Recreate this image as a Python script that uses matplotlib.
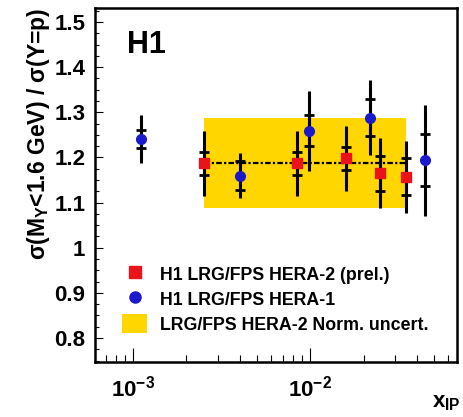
import matplotlib
matplotlib.use("Agg")
import matplotlib.pyplot as plt
from matplotlib.ticker import MultipleLocator, FuncFormatter, FixedLocator, LogLocator, NullFormatter
from matplotlib.lines import Line2D
from matplotlib.patches import Patch

# HERA-2 (prel.) points
x_h2 = [2.52e-3, 8.4e-3, 0.0159, 0.0248, 0.0344]
y_h2 = [1.187, 1.187, 1.198, 1.165, 1.157]
stat_h2 = [0.025, 0.025, 0.025, 0.039, 0.041]
tot_h2 = [0.072, 0.072, 0.072, 0.078, 0.080]

# HERA-1 points
x_h1 = [1.11e-3, 4.03e-3, 9.87e-3, 0.0218, 0.044]
y_h1 = [1.240, 1.160, 1.259, 1.288, 1.194]
stat_h1 = [0.020, 0.033, 0.034, 0.041, 0.058]
tot_h1 = [0.053, 0.050, 0.088, 0.083, 0.123]

# mean ratio and normalisation band
mean_ratio = 1.187
norm_unc = 0.10

xtick_vals = [1e-3, 1e-2]
xtick_labels = [r"$10^{-3}$", r"$10^{-2}$"]
ytick_vals = [0.8, 0.9, 1.0, 1.1, 1.2, 1.3, 1.4, 1.5]

red = "#E8141A"
blue = "#1A1ACC"
gold = "#FFD600"

plt.rcParams["font.family"] = "Liberation Sans"
plt.rcParams["font.weight"] = "bold"
plt.rcParams["mathtext.fontset"] = "custom"
plt.rcParams["mathtext.rm"] = "Liberation Sans:bold"
plt.rcParams["mathtext.it"] = "Liberation Sans:bold"
plt.rcParams["mathtext.bf"] = "Liberation Sans:bold"
plt.rcParams["mathtext.sf"] = "Liberation Sans:bold"

fig = plt.figure(figsize=(4.64, 4.17), dpi=100)
ax = fig.add_axes([0.2047, 0.1319, 0.7802, 0.8489])

# normalisation band + mean line
x0, x1 = min(x_h2), max(x_h2)
ax.fill_between([x0, x1], mean_ratio - norm_unc, mean_ratio + norm_unc,
                color=gold, lw=0, zorder=1)
ax.plot([x0, x1], [mean_ratio] * 2, color="k", lw=1.6,
        ls=(0, (2.5, 1, 1, 1)), zorder=2)

# error bars: total without caps, stat with tick marks
for xs, ys, st, tt in [(x_h2, y_h2, stat_h2, tot_h2), (x_h1, y_h1, stat_h1, tot_h1)]:
    ax.errorbar(xs, ys, yerr=tt, fmt="none", ecolor="k", elinewidth=2.2,
                capsize=0, zorder=3)
    ax.errorbar(xs, ys, yerr=st, fmt="none", ecolor="k", elinewidth=2.2,
                capsize=3.5, capthick=2.0, zorder=3)

ax.plot(x_h2, y_h2, "s", color=red, ms=7, mec=red, zorder=4)
ax.plot(x_h1, y_h1, "o", color=blue, ms=7, mec=blue, zorder=4)

ax.set_xscale("log")
ax.set_xlim(6.1e-4, 0.067)
ax.set_ylim(0.747, 1.531)

ax.xaxis.set_major_locator(FixedLocator(xtick_vals))
ax.set_xticklabels(xtick_labels)
ax.xaxis.set_minor_locator(LogLocator(base=10, subs=range(2, 10), numticks=20))
ax.xaxis.set_minor_formatter(NullFormatter())
ax.set_yticks(ytick_vals)
ax.yaxis.set_major_formatter(FuncFormatter(lambda v, p: f"{v:g}"))
ax.yaxis.set_minor_locator(MultipleLocator(0.025))

for s in ax.spines.values():
    s.set_linewidth(1.8)
ax.tick_params(which="both", direction="in", top=False, right=False, width=0.8)
ax.tick_params(axis="y", which="major", length=6, labelsize=16, pad=7)
ax.tick_params(axis="y", which="minor", length=3)
ax.tick_params(axis="x", which="major", length=10, labelsize=16, pad=10)
ax.tick_params(axis="x", which="minor", length=5)

ax.text(0.088, 0.873, "H1", transform=ax.transAxes, fontsize=22,
        fontweight="bold", ha="left", va="baseline")

ax.text(-0.157, 1.0, r"$\sigma$(M$_Y$<1.6 GeV) / $\sigma$(Y=p)",
        transform=ax.transAxes, rotation=90, fontsize=16.5,
        ha="center", va="top")
fig.text(0.993, 0.022, r"x$_{IP}$", fontsize=16, ha="right", va="baseline")

handles = [
    Line2D([], [], ls="none", marker="s", color=red, ms=8),
    Line2D([], [], ls="none", marker="o", color=blue, ms=8),
    Patch(facecolor=gold, edgecolor="none"),
]
labels = ["H1 LRG/FPS HERA-2 (prel.)", "H1 LRG/FPS HERA-1",
          "LRG/FPS HERA-2 Norm. uncert."]
ax.legend(handles, labels, loc="lower left", bbox_to_anchor=(0.075, 0.08),
          frameon=False, fontsize=12.8, handlelength=1.4, handleheight=1.3,
          handletextpad=0.75, labelspacing=0.3, borderpad=0, borderaxespad=0)

fig.savefig("out.png", dpi=100)
